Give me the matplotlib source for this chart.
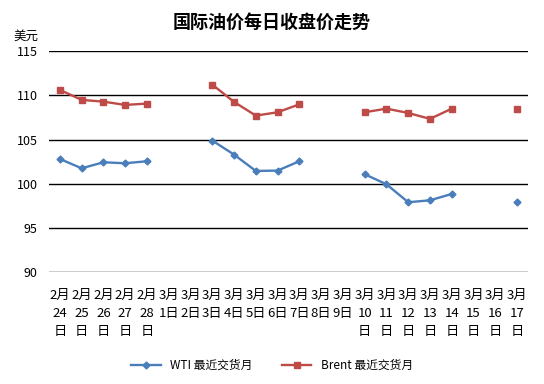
import numpy as np
import matplotlib
matplotlib.use("Agg")
import matplotlib.pyplot as plt

plt.rcParams['font.family'] = ['Noto Sans CJK SC', 'DejaVu Sans']

categories = ["2月\n24\n日", "2月\n25\n日", "2月\n26\n日", "2月\n27\n日", "2月\n28\n日",
              "3月\n1日", "3月\n2日", "3月\n3日", "3月\n4日", "3月\n5日", "3月\n6日",
              "3月\n7日", "3月\n8日", "3月\n9日", "3月\n10\n日", "3月\n11\n日",
              "3月\n12\n日", "3月\n13\n日", "3月\n14\n日", "3月\n15\n日", "3月\n16\n日",
              "3月\n17\n日"]
nan = np.nan
wti = [102.82, 101.76, 102.44, 102.33, 102.56, nan, nan,
       104.9, 103.31, 101.46, 101.5, 102.56, nan, nan,
       101.09, 99.95, 97.92, 98.14, 98.86, nan, nan, 97.99]
brent = [110.63, 109.5, 109.3, 108.93, 109.08, nan, nan,
         111.23, 109.27, 107.72, 108.1, 109.0, nan, nan,
         108.1, 108.51, 108.02, 107.35, 108.51, nan, nan, 108.51]
yticks = [90, 95, 100, 105, 110, 115]

fig = plt.figure(figsize=(5.44, 3.84), dpi=100)
ax = fig.add_axes([0.090, 0.291, 0.8806, 0.5755])
x = np.arange(len(categories))
ax.plot(x, wti, color='#4A7EBB', lw=1.7, marker='D', ms=3.5,
        label='WTI 最近交货月')
ax.plot(x, brent, color='#BE4B48', lw=1.7, marker='s', ms=5,
        label='Brent 最近交货月')
ax.set_xlim(-0.5, len(categories) - 0.5)
ax.set_ylim(90, 115)
ax.set_yticks(yticks)
ax.set_yticklabels([str(t) for t in yticks], fontsize=9)
ax.set_xticks(x)
ax.set_xticklabels(categories, fontsize=9.5, linespacing=1.5, va='top')
ax.tick_params(axis='x', length=0, pad=12)
ax.tick_params(axis='y', length=0, pad=8)
for s in ax.spines.values():
    s.set_visible(False)
ax.yaxis.grid(True, color='black', lw=1.0)
ax.set_axisbelow(True)

fig.text(0.5, 0.943, '国际油价每日收盘价走势', ha='center', va='center',
         fontsize=13, fontweight='bold')
fig.text(0.048, 0.905, '美元', ha='center', va='center', fontsize=9)
fig.legend(loc='center', bbox_to_anchor=(0.5, 0.048), ncol=2, frameon=False,
           fontsize=8.5, handlelength=2.5, columnspacing=2.5)
fig.savefig('out.png', dpi=100)
